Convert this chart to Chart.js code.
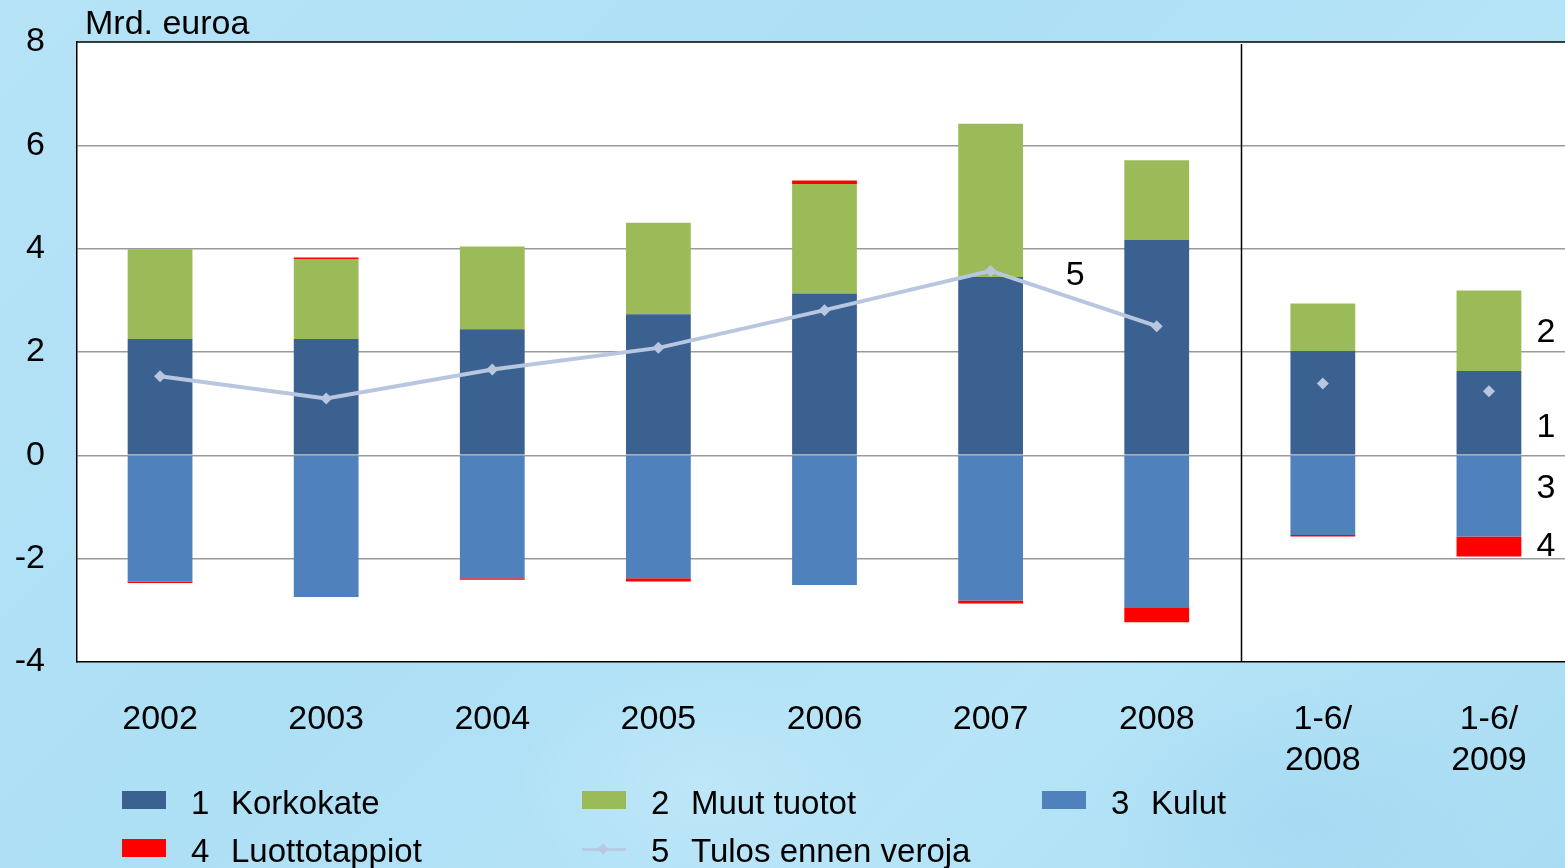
<!DOCTYPE html>
<html>
<head>
<meta charset="utf-8">
<script src="https://cdn.jsdelivr.net/npm/chart.js@4/dist/chart.umd.min.js"></script>
<style>
  html, body { margin: 0; padding: 0; width: 1565px; height: 868px; overflow: hidden; }
  body {
    background:
      radial-gradient(ellipse 260px 160px at 700px 780px, rgba(200,235,250,0.5), transparent 70%),
      radial-gradient(ellipse 300px 200px at 1300px 820px, rgba(150,210,240,0.35), transparent 70%),
      linear-gradient(135deg, #b6e3f6 0%, #addff5 40%, #b7e4f7 70%, #a9dcf3 100%);
    font-family: "Liberation Sans", Arial, sans-serif;
  }
  #wrap { position: absolute; left: 0; top: 0; width: 1578px; height: 868px; }
  #c { display: block; width: 1578px; height: 868px; }
  .leg { position: absolute; font-size: 33px; color: #000; line-height: 40px; white-space: nowrap; }
  .sw { position: absolute; width: 44px; height: 18px; }
</style>
</head>
<body>
<div id="wrap"><canvas id="c" width="1578" height="868"></canvas></div>
<div id="legend"></div>
<script>
// ---- data ----
const categories = ['2002', '2003', '2004', '2005', '2006', '2007', '2008', ['1-6/', '2008'], ['1-6/', '2009']];
const korkokate = [2.25, 2.25, 2.44, 2.73, 3.13, 3.45, 4.17, 2.02, 1.63];
const muutTuotot = [1.74, 1.55, 1.60, 1.77, 2.12, 2.97, 1.54, 0.92, 1.56];
const kulut = [-2.44, -2.74, -2.38, -2.38, -2.51, -2.81, -2.94, -1.54, -1.57];
const luottotappiot = [-0.03, 0.03, -0.03, -0.06, 0.07, -0.06, -0.29, -0.03, -0.39];
const tulosEnnenVeroja = [1.53, 1.10, 1.66, 2.08, 2.81, 3.57, 2.50, 1.39, 1.24];
const seriesNumbers = ['1', '2', '3', '4', '5'];
const seriesNames = ['Korkokate', 'Muut tuotot', 'Kulut', 'Luottotappiot', 'Tulos ennen veroja'];
const yTicks = [-4, -2, 0, 2, 4, 6, 8];
const unitLabel = 'Mrd. euroa';

const colors = ['#3b6190', '#9bbb59', '#4f81bd', '#ff0000', '#b9c6e0'];
const FONT = '"Liberation Sans", Arial, sans-serif';

// ---- legend (HTML) ----
const legend = document.getElementById('legend');
const legPos = [[122, 802], [582, 802], [1042, 802], [122, 850], [582, 850]];
seriesNames.forEach((name, i) => {
  const [x, y] = legPos[i];
  if (i < 4) {
    const sw = document.createElement('div');
    sw.className = 'sw';
    sw.style.left = x + 'px'; sw.style.top = (y - 11) + 'px';
    sw.style.background = colors[i];
    legend.appendChild(sw);
  } else {
    const ln = document.createElement('div');
    ln.style.cssText = 'position:absolute;left:' + x + 'px;top:' + (y - 2) + 'px;width:44px;height:3px;background:' + colors[4] + ';opacity:0.8';
    legend.appendChild(ln);
    const dm = document.createElement('div');
    dm.style.cssText = 'position:absolute;left:' + (x + 17) + 'px;top:' + (y - 5) + 'px;width:8px;height:8px;transform:rotate(45deg);background:' + colors[4] + ';opacity:0.8';
    legend.appendChild(dm);
  }
  const n = document.createElement('div');
  n.className = 'leg';
  n.style.left = (x + 69) + 'px'; n.style.top = (y - 19) + 'px';
  n.textContent = seriesNumbers[i];
  legend.appendChild(n);
  const t = document.createElement('div');
  t.className = 'leg';
  t.style.left = (x + 109) + 'px'; t.style.top = (y - 19) + 'px';
  t.textContent = name;
  legend.appendChild(t);
});

// ---- plugin: plot background, frame, divider, annotations ----
const decor = {
  id: 'decor',
  beforeDraw(chart) {
    const { ctx, chartArea: a } = chart;
    ctx.save();
    ctx.fillStyle = '#ffffff';
    ctx.fillRect(a.left, a.top, a.right - a.left, a.bottom - a.top);
    ctx.restore();
  },
  afterDatasetsDraw(chart) {
    const { ctx, chartArea: a, scales } = chart;
    const xs = scales.x, ys = scales.y;
    ctx.save();
    ctx.strokeStyle = '#000';
    ctx.lineWidth = 1.5;
    ctx.beginPath(); ctx.moveTo(a.left, a.top); ctx.lineTo(a.right, a.top); ctx.stroke();
    const dx = Math.round((xs.getPixelForValue(6) + xs.getPixelForValue(7)) / 2) + 1.5;
    ctx.beginPath(); ctx.moveTo(dx, a.top + 2); ctx.lineTo(dx, a.bottom); ctx.stroke();
    ctx.fillStyle = '#000';
    ctx.font = '34px ' + FONT;
    ctx.textBaseline = 'middle';
    ctx.textAlign = 'left';
    ctx.fillText(unitLabel, a.left + 8, a.top - 17);
    ctx.textAlign = 'center';
    const x5 = xs.getPixelForValue(5) + 0.51 * (xs.getPixelForValue(6) - xs.getPixelForValue(5));
    ctx.fillText(seriesNumbers[4], x5, ys.getPixelForValue(3.48));
    const xr = xs.getPixelForValue(8) + 57;
    ctx.fillText(seriesNumbers[1], xr, ys.getPixelForValue(2.38));
    ctx.fillText(seriesNumbers[0], xr, ys.getPixelForValue(0.54));
    ctx.fillText(seriesNumbers[2], xr, ys.getPixelForValue(-0.64));
    ctx.fillText(seriesNumbers[3], xr, ys.getPixelForValue(-1.76));
    ctx.restore();
  }
};

const lineColor = colors[4];

const chart = new Chart(document.getElementById('c'), {
  data: {
    labels: categories,
    datasets: [
      { type: 'line', label: seriesNames[4], data: tulosEnnenVeroja, order: 0,
        borderColor: lineColor, backgroundColor: lineColor, borderWidth: 4,
        pointStyle: 'rectRot', pointRadius: 6, pointBorderWidth: 0,
        pointBackgroundColor: lineColor, tension: 0,
        segment: { borderColor: c => c.p0DataIndex >= 6 ? 'rgba(0,0,0,0)' : lineColor } },
      { type: 'bar', label: seriesNames[0], data: korkokate, backgroundColor: colors[0], order: 1, stack: 's' },
      { type: 'bar', label: seriesNames[1], data: muutTuotot, backgroundColor: colors[1], order: 1, stack: 's' },
      { type: 'bar', label: seriesNames[2], data: kulut, backgroundColor: colors[2], order: 1, stack: 's' },
      { type: 'bar', label: seriesNames[3], data: luottotappiot, backgroundColor: colors[3], order: 1, stack: 's' }
    ]
  },
  options: {
    responsive: false,
    maintainAspectRatio: false,
    animation: false,
    devicePixelRatio: 1,
    datasets: { bar: { barPercentage: 0.39, categoryPercentage: 1 } },
    layout: { padding: { top: 42, right: 0, bottom: 86, left: 0 } },
    plugins: { legend: { display: false }, tooltip: { enabled: false } },
    scales: {
      x: {
        stacked: true,
        grid: { display: false, drawTicks: false },
        border: { color: '#000', width: 1.5 },
        ticks: { color: '#000', font: { family: FONT, size: 34, lineHeight: 1.2 }, padding: 37, maxRotation: 0, autoSkip: false },
        afterFit(s) { s.height = 120; s.paddingLeft = 0; s.paddingRight = 0; }
      },
      y: {
        stacked: true,
        min: yTicks[0], max: yTicks[yTicks.length - 1],
        afterBuildTicks(s) { s.ticks = yTicks.map(v => ({ value: v })); },
        grid: {
          drawTicks: false, tickLength: 0, lineWidth: 1.5,
          color: c => (c.tick && (c.tick.value === 8 || c.tick.value === -4)) ? 'rgba(0,0,0,0)' : '#9a9a9a'
        },
        border: { color: '#000', width: 1.5 },
        ticks: { color: '#000', font: { family: FONT, size: 34 }, padding: 32 },
        afterFit(s) { s.width = 77; s.paddingTop = 0; s.paddingBottom = 0; }
      }
    }
  },
  plugins: [decor]
});
</script>
</body>
</html>
